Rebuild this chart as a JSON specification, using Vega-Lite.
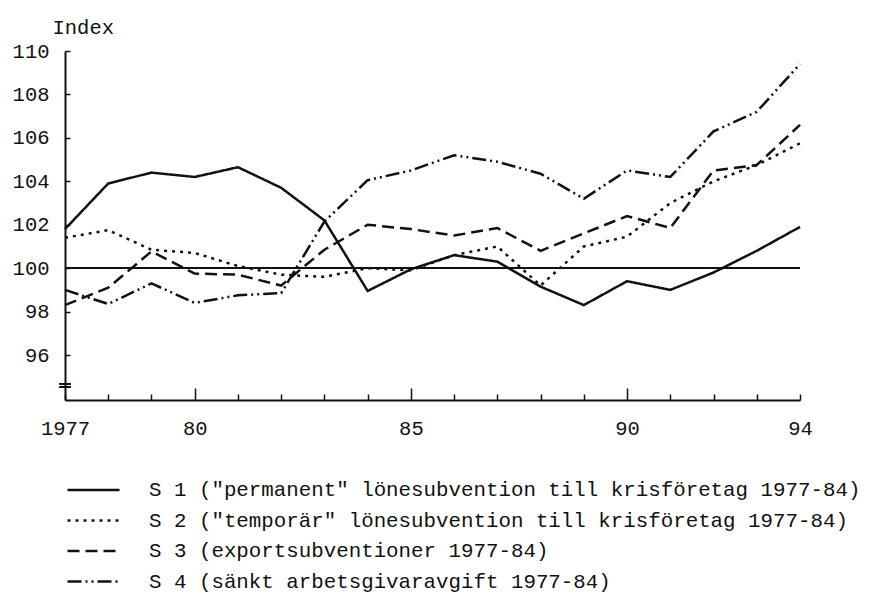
{
 "$schema": "https://vega.github.io/schema/vega-lite/v6.json",
 "autosize": {"type": "none"},
 "width": 735,
 "height": 349,
 "padding": {"left": 65, "top": 51, "right": 69, "bottom": 194},
 "background": "white",
 "config": {
  "view": {"stroke": null},
  "font": "Liberation Mono",
  "axis": {"grid": false, "domainColor": "#111", "domainWidth": 2, "tickColor": "#111", "tickWidth": 1.5, "labelColor": "#111", "labelFont": "Liberation Mono", "labelFontSize": 20.5, "titleFont": "Liberation Mono", "titleFontWeight": "normal", "titleColor": "#111"}
 },
 "data": {"values": [
  {"year":1977,"s":"S1","value":101.8},{"year":1978,"s":"S1","value":103.9},{"year":1979,"s":"S1","value":104.4},{"year":1980,"s":"S1","value":104.2},{"year":1981,"s":"S1","value":104.65},{"year":1982,"s":"S1","value":103.7},{"year":1983,"s":"S1","value":102.2},{"year":1984,"s":"S1","value":98.95},{"year":1985,"s":"S1","value":99.95},{"year":1986,"s":"S1","value":100.6},{"year":1987,"s":"S1","value":100.3},{"year":1988,"s":"S1","value":99.15},{"year":1989,"s":"S1","value":98.3},{"year":1990,"s":"S1","value":99.4},{"year":1991,"s":"S1","value":99.0},{"year":1992,"s":"S1","value":99.8},{"year":1993,"s":"S1","value":100.8},{"year":1994,"s":"S1","value":101.9},
  {"year":1977,"s":"S2","value":101.4},{"year":1978,"s":"S2","value":101.75},{"year":1979,"s":"S2","value":100.85},{"year":1980,"s":"S2","value":100.7},{"year":1981,"s":"S2","value":100.1},{"year":1982,"s":"S2","value":99.7},{"year":1983,"s":"S2","value":99.6},{"year":1984,"s":"S2","value":100.0},{"year":1985,"s":"S2","value":99.9},{"year":1986,"s":"S2","value":100.6},{"year":1987,"s":"S2","value":101.0},{"year":1988,"s":"S2","value":99.2},{"year":1989,"s":"S2","value":101.0},{"year":1990,"s":"S2","value":101.45},{"year":1991,"s":"S2","value":103.0},{"year":1992,"s":"S2","value":104.0},{"year":1993,"s":"S2","value":104.75},{"year":1994,"s":"S2","value":105.75},
  {"year":1977,"s":"S3","value":98.3},{"year":1978,"s":"S3","value":99.1},{"year":1979,"s":"S3","value":100.77},{"year":1980,"s":"S3","value":99.75},{"year":1981,"s":"S3","value":99.7},{"year":1982,"s":"S3","value":99.2},{"year":1983,"s":"S3","value":100.85},{"year":1984,"s":"S3","value":102.0},{"year":1985,"s":"S3","value":101.8},{"year":1986,"s":"S3","value":101.5},{"year":1987,"s":"S3","value":101.85},{"year":1988,"s":"S3","value":100.8},{"year":1989,"s":"S3","value":101.6},{"year":1990,"s":"S3","value":102.4},{"year":1991,"s":"S3","value":101.85},{"year":1992,"s":"S3","value":104.5},{"year":1993,"s":"S3","value":104.75},{"year":1994,"s":"S3","value":106.6},
  {"year":1977,"s":"S4","value":99.0},{"year":1978,"s":"S4","value":98.35},{"year":1979,"s":"S4","value":99.3},{"year":1980,"s":"S4","value":98.4},{"year":1981,"s":"S4","value":98.75},{"year":1982,"s":"S4","value":98.85},{"year":1983,"s":"S4","value":102.15},{"year":1984,"s":"S4","value":104.05},{"year":1985,"s":"S4","value":104.5},{"year":1986,"s":"S4","value":105.2},{"year":1987,"s":"S4","value":104.9},{"year":1988,"s":"S4","value":104.35},{"year":1989,"s":"S4","value":103.2},{"year":1990,"s":"S4","value":104.5},{"year":1991,"s":"S4","value":104.2},{"year":1992,"s":"S4","value":106.3},{"year":1993,"s":"S4","value":107.2},{"year":1994,"s":"S4","value":109.4}
 ]},
 "layer": [
  {
   "mark": {"type": "line", "color": "#111", "strokeWidth": 2.5},
   "encoding": {
    "x": {"field": "year", "type": "quantitative", "scale": {"domain": [1977, 1994], "nice": false, "zero": false},
      "axis": {"title": null, "values": [1977,1978,1979,1980,1981,1982,1983,1984,1985,1986,1987,1988,1989,1990,1991,1992,1993,1994],
        "labelExpr": "datum.value == 1977 ? '1977' : (indexof([1980,1985,1990,1994], datum.value) >= 0 ? slice(toString(datum.value), 2) : '')",
        "tickSize": {"condition": {"test": "indexof([1980,1985,1990], datum.value) >= 0", "value": -12}, "value": -6},
        "labelPadding": {"condition": {"test": "indexof([1980,1985,1990], datum.value) >= 0", "value": 30}, "value": 24},
        "labelFlush": false, "labelOverlap": false, "labelBound": false}},
    "y": {"field": "value", "type": "quantitative", "scale": {"domain": [93.93, 110], "nice": false, "zero": false},
      "axis": {"values": [96,98,100,102,104,106,108,110], "title": "Index", "titleAngle": 0, "titleX": -13, "titleY": -18, "titleAlign": "left", "titleBaseline": "alphabetic", "titleFontSize": 20.5, "tickSize": -5, "labelPadding": 21}},
    "strokeDash": {"field": "s", "type": "nominal",
      "scale": {"domain": ["S1","S2","S3","S4"], "range": [[1,0],[3,5],[12,6],[14,4,2,4,2,4]]},
      "legend": {"title": null, "orient": "none", "legendX": 1, "legendY": 429, "direction": "vertical",
        "symbolType": "stroke", "symbolSize": 2704, "symbolStrokeWidth": 2.5, "symbolStrokeColor": "#111",
        "clipHeight": 20, "rowPadding": 9.5, "labelFont": "Liberation Mono", "labelFontSize": 20.8, "labelColor": "#111",
        "labelOffset": 28, "labelLimit": 900,
        "labelExpr": "datum.label == 'S1' ? 'S 1 (\"permanent\" lönesubvention till krisföretag 1977-84)' : datum.label == 'S2' ? 'S 2 (\"temporär\" lönesubvention till krisföretag 1977-84)' : datum.label == 'S3' ? 'S 3 (exportsubventioner 1977-84)' : 'S 4 (sänkt arbetsgivaravgift 1977-84)'"}}
   }
  },
  {
   "mark": {"type": "rule", "color": "#111", "strokeWidth": 1.5},
   "encoding": {"y": {"datum": 100, "type": "quantitative"}}
  },
  {
   "mark": {"type": "text", "text": "=", "fontSize": 16, "fontWeight": "bold", "color": "#111", "font": "DejaVu Sans"},
   "encoding": {"x": {"datum": 1977, "type": "quantitative"}, "y": {"datum": 94.6, "type": "quantitative"}}
  }
 ]
}
